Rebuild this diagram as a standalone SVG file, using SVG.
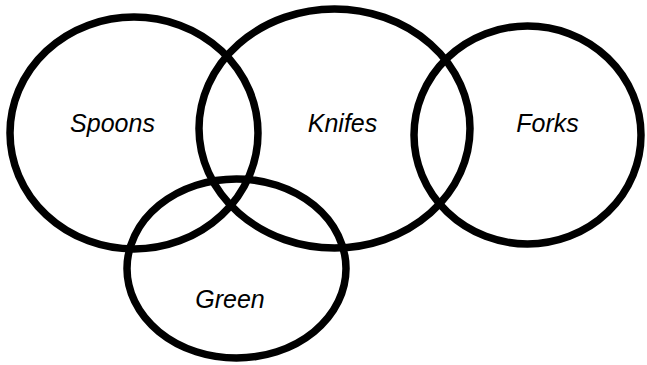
<svg xmlns="http://www.w3.org/2000/svg" width="647" height="365" viewBox="0 0 647 365">
<style>
.set{fill:none;stroke:#000;stroke-width:7.5}
.lbl{font-family:"Liberation Sans",Arial,sans-serif;font-style:italic;font-size:25px;fill:#000;text-anchor:middle}
</style>
<rect width="647" height="365" fill="#fff"/>
<g id="spoons"><ellipse class="set" cx="134" cy="133" rx="124" ry="116"/><text class="lbl" x="112.5" y="132">Spoons</text></g>
<g id="knifes"><ellipse class="set" cx="334.5" cy="128.5" rx="135.5" ry="119.5"/><text class="lbl" x="342.5" y="132">Knifes</text></g>
<g id="forks"><ellipse class="set" cx="527.5" cy="135" rx="113.5" ry="109"/><text class="lbl" x="547.5" y="132">Forks</text></g>
<g id="green"><ellipse class="set" cx="236.5" cy="268.5" rx="109.5" ry="89.5"/><text class="lbl" x="230" y="308">Green</text></g>
<g id="connectors"></g>
</svg>
